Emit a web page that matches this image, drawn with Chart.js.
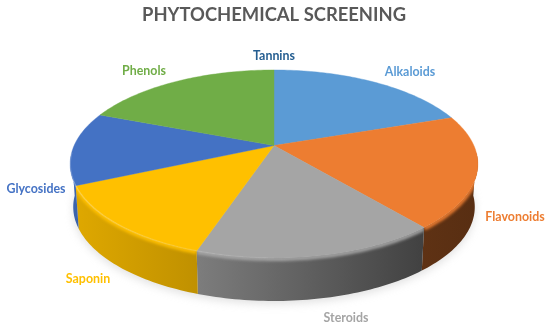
<!DOCTYPE html>
<html><head><meta charset="utf-8">
<style>html,body{margin:0;padding:0;background:#fff}canvas{display:block;filter:blur(0.35px)}</style>
<script src="https://cdn.jsdelivr.net/npm/chart.js@4"></script></head>
<body><canvas id="c" width="550" height="331"></canvas>
<script>
const categories = ['Alkaloids','Flavonoids','Steroids','Saponin','Glycosides','Phenols','Tannins'];
const shareValues = [19.7,19.3,16.1,13.2,12.6,19.1,0];
const sliceColors = ['#5B9BD5','#ED7D31','#A5A5A5','#FFC000','#4472C4','#70AD47','#255E91'];
const labelAnchors = [[410,72],[515,217],[346,318],[88,279],[36,189],[144,71],[274,56]];

const persp = {sx:1.97, sy:0.891, k:0.196, depth:43, shrink:0.985};
const shadeStops = [[70,.88],[200,.75],[420,.40],[476,.37]];
function rgb(h){return [1,3,5].map(i=>parseInt(h.substr(i,2),16));}
function mix(c,f,a){return `rgba(${rgb(c).map(v=>Math.round(v*f)).join(',')},${a===undefined?1:a})`;}

const pie3d = {
  id:'pie3d',
  beforeDatasetDraw(chart,args){
    const ctx=chart.ctx, arcs=args.meta.data, o=arcs[0];
    const r=o.outerRadius, cx=o.x, cy=o.y;
    const A=r*persp.sx, B=r*persp.sy, k=persp.k;
    const P=a=>{const u=Math.cos(a),v=Math.sin(a),w=1-k*v;return [cx+A*u/w,cy+B*v/w];};
    const Q=a=>{const p=P(a);return [cx+(p[0]-cx)*persp.shrink,p[1]+persp.depth];};
    const samples=(s,e)=>{const n=Math.max(2,Math.ceil((e-s)/0.02)),out=[];for(let i=0;i<=n;i++)out.push(s+(e-s)*i/n);return out;};
    const v0=Math.asin(k)-0.12, v1=Math.PI-Math.asin(k)+0.12;
    const full=samples(0,Math.PI*2);
    const wallPath=(s,e)=>{
      const ss=samples(s,e);
      ctx.beginPath();
      ss.forEach((a,j)=>{const p=P(a);ctx[j?'lineTo':'moveTo'](p[0],p[1]);});
      ss.slice().reverse().forEach(a=>{const q=Q(a);ctx.lineTo(q[0],q[1]);});
      ctx.closePath();
    };

    // soft ground shadow
    ctx.save();
    ctx.filter='blur(4px)';
    ctx.fillStyle='rgba(170,170,170,.35)';
    ctx.beginPath();
    full.forEach((a,i)=>{const q=Q(a);ctx[i?'lineTo':'moveTo'](q[0],q[1]+3);});
    ctx.fill();
    ctx.restore();

    // side wall with a soft bevel clipped to it
    const glint=ctx.createLinearGradient(70,0,330,0);
    glint.addColorStop(0,'rgba(255,255,255,.22)');
    glint.addColorStop(1,'rgba(255,255,255,0)');
    arcs.forEach((el,i)=>{
      const s=Math.max(el.startAngle,v0), e=Math.min(el.endAngle,v1);
      if(e<=s) return;
      const g=ctx.createLinearGradient(70,0,476,0);
      shadeStops.forEach(st=>g.addColorStop((st[0]-70)/406,mix(sliceColors[i],st[1])));
      ctx.fillStyle=g;
      wallPath(s,e); ctx.fill();
      ctx.save();
      wallPath(s,e); ctx.clip();
      const rim=()=>{ctx.beginPath();samples(s,e).forEach((a,j)=>{const p=P(a);ctx[j?'lineTo':'moveTo'](p[0],p[1]+1);});};
      ctx.filter='blur(1.6px)';
      ctx.strokeStyle=sliceColors[i]; ctx.lineWidth=4;
      rim(); ctx.stroke();
      ctx.filter='none';
      ctx.restore();
    });

    // top face
    arcs.forEach((el,i)=>{
      if(el.endAngle-el.startAngle<=0) return;
      ctx.fillStyle=sliceColors[i]; ctx.strokeStyle=sliceColors[i]; ctx.lineWidth=.4;
      ctx.beginPath(); ctx.moveTo(cx,cy);
      samples(el.startAngle,el.endAngle).forEach(a=>{const p=P(a);ctx.lineTo(p[0],p[1]);});
      ctx.closePath(); ctx.fill(); ctx.stroke();
    });

    // bright line along the front rim
    ctx.save();
    ctx.filter='blur(.6px)';
    ctx.strokeStyle=glint; ctx.lineWidth=1.6;
    ctx.beginPath();
    samples(Math.PI*0.5,v1).forEach((a,j)=>{const p=P(a);ctx[j?'lineTo':'moveTo'](p[0],p[1]);});
    ctx.stroke();
    ctx.restore();

    // category labels
    ctx.font='bold 12.4px Lato'; ctx.textAlign='center'; ctx.textBaseline='middle';
    categories.forEach((c,i)=>{ctx.fillStyle=sliceColors[i];ctx.fillText(c,labelAnchors[i][0],labelAnchors[i][1]);});
    return false;
  }
};

new Chart(document.getElementById('c'),{
  type:'pie',
  data:{labels:categories,datasets:[{data:shareValues,backgroundColor:sliceColors,borderWidth:0}]},
  plugins:[pie3d],
  options:{
    responsive:false,animation:false,
    layout:{padding:{top:0,bottom:84,left:0,right:2}},
    plugins:{
      legend:{display:false},tooltip:{enabled:false},
      title:{display:true,text:'PHYTOCHEMICAL SCREENING',color:'#595959',
        font:{family:'Lato',size:18.4,weight:'bold'},padding:{top:4,bottom:18}}
    }
  }
});
</script></body></html>
